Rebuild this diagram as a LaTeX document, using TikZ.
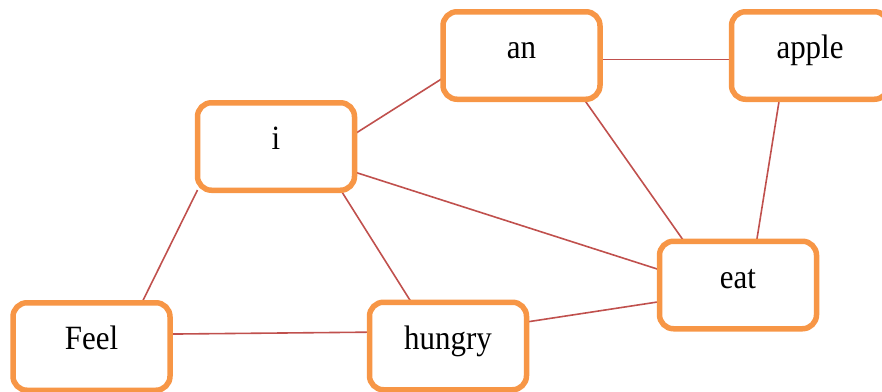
\documentclass[tikz,border=0pt]{standalone}
\usepackage{fontspec}
\setmainfont{Liberation Serif}
\newfontfamily\wordfont[FakeStretch=0.91]{Liberation Serif}
\usetikzlibrary{backgrounds}
\definecolor{boxorange}{HTML}{F79646}
\definecolor{edgered}{HTML}{C0504D}
\tikzset{
  wordbox/.style={draw=boxorange, line width=5.5pt, rounded corners=14pt, fill=white,
    minimum width=157pt, minimum height=87.5pt, inner sep=0pt, outer sep=0pt},
  wordtext/.style={label={[text height=21pt, text depth=7pt, inner sep=0pt, yshift=4pt,
    font=\wordfont\fontsize{34}{40}\selectfont]center:#1}},
  link/.style={draw=edgered, line width=1.6pt}
}
\begin{document}
\begin{tikzpicture}[x=1pt,y=-1pt]
\useasboundingbox (0,0) rectangle (882,391);
\node[wordbox, wordtext={an}] (an) at (521.5,55.5) {};
\node[wordbox, wordtext={apple}] (apple) at (810,55.5) {};
\node[wordbox, wordtext={i}] (i) at (276,146.5) {};
\node[wordbox, wordtext={eat}] (eat) at (738,285) {};
\node[wordbox, wordtext={Feel}] (feel) at (91.5,346.5) {};
\node[wordbox, wordtext={hungry}] (hungry) at (448,346) {};
\begin{scope}[on background layer]
\draw[link] (i.9.7) -- (an.196);
\draw[link] (i.342) -- (eat.169.5);
\draw[link] (i.326) -- (hungry.130.5);
\draw[link] (i.209) -- (feel.41.9);
\draw[link] (an.357.5) -- (apple.183);
\draw[link] (an.325) -- (eat.141);
\draw[link] (apple.235.2) -- (eat.67);
\draw[link] (hungry.17.5) -- (eat.192.5);
\draw[link] (feel.9.8) -- (hungry.170.5);
\end{scope}
\end{tikzpicture}
\end{document}
